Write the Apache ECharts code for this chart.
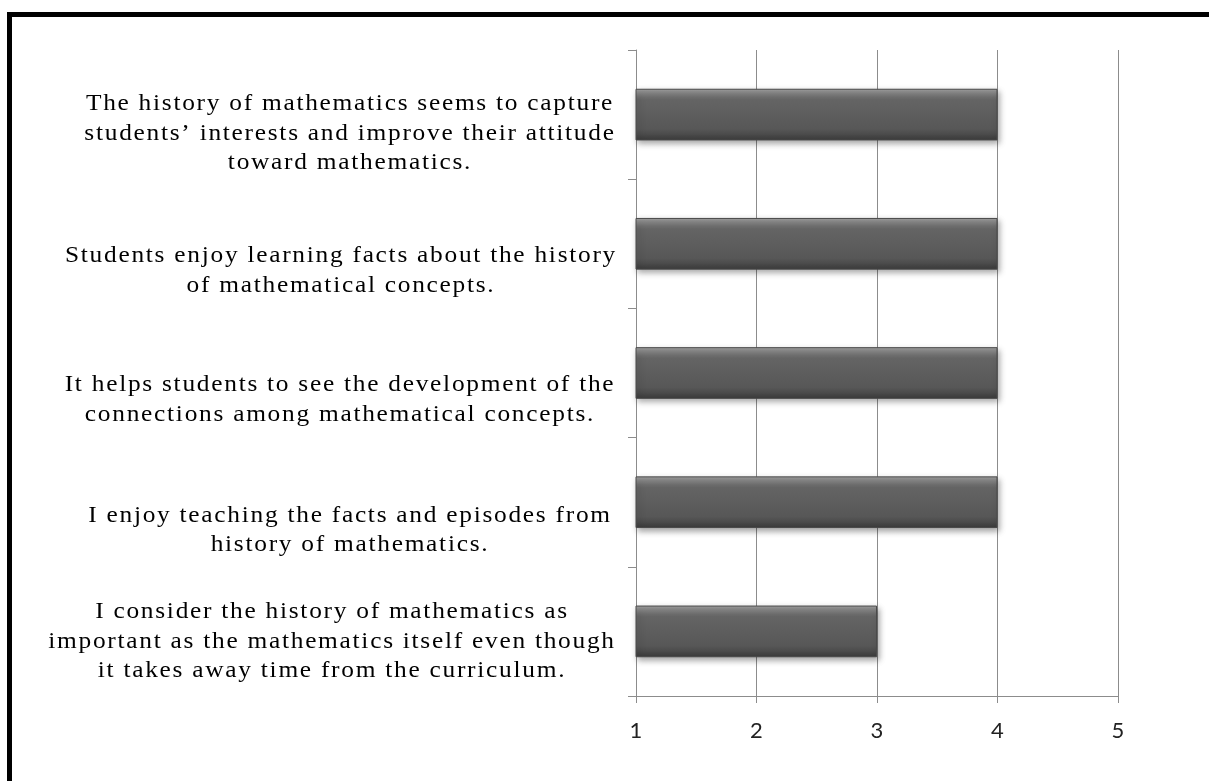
<!DOCTYPE html>
<html>
<head>
<meta charset="utf-8">
<script src="https://cdn.jsdelivr.net/npm/echarts@6/dist/echarts.min.js"></script>
<style>
  html, body { margin: 0; padding: 0; background: #ffffff; overflow: hidden; }
  #chart { position: absolute; left: 0; top: 0; width: 1209px; height: 781px; }
  #frame { position: absolute; left: 7px; top: 12px; width: 1300px; height: 900px;
           border: 5px solid #000; pointer-events: none; box-sizing: border-box; }
</style>
</head>
<body>
<div id="chart"></div>
<div id="frame"></div>
<script>
// ---- data ----
const categories = [
  "The history of mathematics seems to capture\nstudents\u2019 interests and improve their attitude\ntoward mathematics.",
  "Students enjoy learning facts about the history\nof mathematical concepts.",
  "It helps students to see the development of the\nconnections among mathematical concepts.",
  "I enjoy teaching the facts and episodes from\nhistory of mathematics.",
  "I consider the history of mathematics as\nimportant as the mathematics itself even though\nit takes away time from the curriculum."
];
const values = [4, 4, 4, 4, 3];
const xTicks = [1, 2, 3, 4, 5];

// ---- label styling (offsets of each wrapped label, dx, dy in px) ----
const labelShift = [[5, 19], [-4, 27], [-5, 27], [5, 28], [-13, 10]];

// the reference's serif labels are drawn slightly wider than the font's natural width
(function () {
  const proto = CanvasRenderingContext2D.prototype;
  const orig = proto.fillText;
  proto.fillText = function (t, x, y, m) {
    if (this.font && this.font.indexOf('Liberation Serif') >= 0) {
      const prev = this.letterSpacing;
      this.save();
      this.translate(x, y);
      this.scale(1.08, 1);
      if ('letterSpacing' in this) this.letterSpacing = '1.6px';
      orig.call(this, t, 0, 0);
      this.restore();
      if ('letterSpacing' in this) this.letterSpacing = prev;
    } else {
      if (m === undefined) orig.call(this, t, x, y); else orig.call(this, t, x, y, m);
    }
  };
})();

const yData = categories.map(function (c, i) {
  const dx = labelShift[i][0];
  return {
    value: c,
    textStyle: {
      align: 'center',
      verticalAlign: 'middle',
      padding: [0, dx < 0 ? -2 * dx : 0, 0, dx > 0 ? 2 * dx : 0]
    }
  };
});

// spacer lines (rich text) push each wrapped label down by dy
const richStyles = {};
labelShift.forEach(function (s, i) {
  const h = Math.max(1, 2 * s[1]);
  richStyles['sp' + i] = { height: h, lineHeight: h, fontSize: 10 };
});

const gridColor = '#8c8c8c';

const chart = echarts.init(document.getElementById('chart'), null, { renderer: 'canvas' });
chart.setOption({
  backgroundColor: '#ffffff',
  animation: false,
  grid: { left: 636, right: 91, top: 50, bottom: 85, containLabel: false, outerBoundsMode: 'none' },
  xAxis: {
    type: 'value',
    min: xTicks[0],
    max: xTicks[xTicks.length - 1],
    interval: 1,
    axisLine: { show: true, lineStyle: { color: gridColor, width: 1 } },
    axisTick: { show: true, length: 7, lineStyle: { color: gridColor, width: 1 } },
    splitLine: { show: true, lineStyle: { color: gridColor, width: 1 } },
    axisLabel: {
      margin: 24,
      fontFamily: 'Lato',
      fontSize: 22,
      color: '#222222'
    }
  },
  yAxis: {
    type: 'category',
    inverse: true,
    data: yData,
    axisLine: { show: true, lineStyle: { color: gridColor, width: 1 } },
    axisTick: { show: true, length: 8, lineStyle: { color: gridColor, width: 1 } },
    splitLine: { show: false },
    axisLabel: {
      interval: 0,
      align: 'center',
      verticalAlign: 'middle',
      margin: 291,
      fontFamily: 'Liberation Serif',
      fontSize: 23.5,
      lineHeight: 29.5,
      color: '#000000',
      formatter: function (value, index) {
        return '{sp' + index + '| }\n' + value;
      },
      rich: richStyles
    }
  },
  series: [{
    type: 'bar',
    data: values,
    barWidth: '40%',
    clip: true,
    itemStyle: {
      color: {
        type: 'linear', x: 0, y: 0, x2: 0, y2: 1,
        colorStops: [
          { offset: 0, color: '#a6a6a6' },
          { offset: 0.05, color: '#909090' },
          { offset: 0.16, color: '#6f6f6f' },
          { offset: 0.22, color: '#646464' },
          { offset: 0.78, color: '#575757' },
          { offset: 0.88, color: '#4b4b4b' },
          { offset: 1, color: '#3a3a3a' }
        ]
      },
      borderColor: '#4a4a4a',
      borderWidth: 1,
      shadowColor: 'rgba(0,0,0,0.35)',
      shadowBlur: 6,
      shadowOffsetX: 2,
      shadowOffsetY: 3
    }
  }]
});
</script>
</body>
</html>
